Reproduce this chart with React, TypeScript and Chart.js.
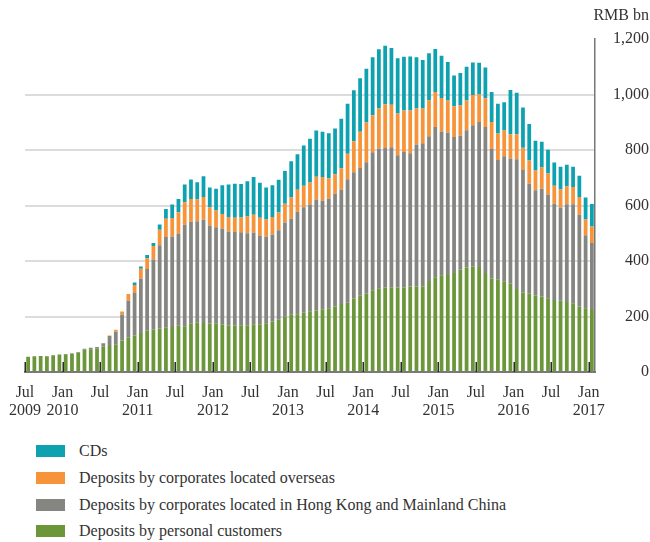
import React, { useEffect, useRef } from "react";
import { Chart, registerables } from "chart.js";

Chart.register(...registerables);

const monthNames = ["Jan", "Feb", "Mar", "Apr", "May", "Jun", "Jul", "Aug", "Sep", "Oct", "Nov", "Dec"];
const startMonth = 6; // Jul
const startYear = 2009;
const monthCount = 91; // Jul 2009 .. Jan 2017

const categories: string[] = [];
for (let i = 0; i < monthCount; i++) {
  const m = (startMonth + i) % 12;
  const y = startYear + Math.floor((startMonth + i) / 12);
  categories.push(`${monthNames[m]} ${y}`);
}

const seriesNames = [
  "CDs",
  "Deposits by corporates located overseas",
  "Deposits by corporates located in Hong Kong and Mainland China",
  "Deposits by personal customers",
];
const seriesColors = ["#0ea2b0", "#f7943a", "#858581", "#6c963a"];

const personal = [
  55, 57, 58, 57, 60, 63, 64, 66, 70,
  80, 82, 84, 92, 94, 100,
  114, 124, 132, 141, 149, 153, 157, 160, 162, 167, 165, 176, 178, 177, 175, 176,
  170, 169, 168, 169, 169, 172, 172, 176, 182, 188, 199, 208, 208, 214, 219,
  222, 226, 230, 236, 245, 250, 265, 275, 282, 295, 302, 305, 304, 305, 305,
  308, 308, 308, 328, 342, 349, 350, 357, 370, 377, 380, 379, 357, 337, 333, 327,
  318, 299, 287, 282, 276, 272, 266, 260, 257, 252, 248, 236, 230, 224,
];
const hkCorporates = [
  0, 0, 0, 0, 0, 0, 1, 2, 2,
  4, 5, 6, 12, 36, 45,
  92, 133, 153, 195, 222, 253, 300, 327, 327, 332, 366, 366, 366, 372, 353, 346,
  347, 338, 337, 335, 331, 331, 320, 312, 314, 323, 340, 345, 370, 380, 385,
  400, 392, 396, 407, 413, 445, 455, 461, 474, 497, 503, 503, 506, 477, 488,
  481, 512, 517, 522, 541, 518, 514, 490, 482, 495, 510, 522, 526, 467, 431, 451,
  452, 468, 441, 397, 379, 389, 374, 347, 336, 353, 357, 331, 263, 241,
];
const overseasCorporates = [
  0, 0, 0, 0, 0, 0, 0, 0, 0,
  0, 0, 0, 0, 2, 7,
  12, 24, 29, 36, 39, 48, 56, 66, 66, 77, 81, 82, 78, 82, 66, 60,
  53, 52, 51, 53, 61, 64, 64, 62, 63, 64, 68, 76, 79, 78, 79,
  82, 85, 73, 70, 77, 92, 112, 130, 144, 134, 145, 157, 154, 150, 150,
  154, 130, 125, 129, 127, 121, 115, 111, 109, 107, 109, 100, 104, 97, 96, 93,
  87, 90, 81, 84, 72, 76, 76, 65, 65, 64, 62, 64, 57, 60,
];
const cds = [
  0, 0, 0, 0, 0, 0, 0, 0, 0,
  0, 0, 0, 0, 0, 0,
  0, 0, 9, 8, 12, 11, 19, 35, 49, 48, 64, 70, 62, 75, 71, 79,
  103, 117, 123, 121, 127, 136, 126, 115, 114, 118, 118, 131, 128, 145, 158,
  167, 163, 162, 165, 178, 180, 184, 193, 193, 209, 214, 211, 204, 199, 194,
  195, 185, 175, 170, 155, 152, 139, 111, 117, 122, 117, 114, 111, 109, 107, 102,
  160, 150, 145, 131, 107, 93, 85, 83, 82, 78, 73, 77, 79, 81,
];

const yTicks = [0, 200, 400, 600, 800, 1000, 1200];
const unitLabel = "RMB bn";

const FONT = "'Liberation Serif', 'Times New Roman', serif";
const TEXT = "#333333";

function tickLabel(i: number): string | string[] {
  const m = (startMonth + i) % 12;
  const y = startYear + Math.floor((startMonth + i) / 12);
  if (m === 6) return i === 0 ? ["Jul", String(y)] : "Jul";
  if (m === 0) return ["Jan", String(y)];
  return "";
}

const innerTicks = {
  id: "innerTicks",
  afterDatasetsDraw(chart: any) {
    const xs = chart.scales.x;
    const area = chart.chartArea;
    const ctx = chart.ctx;
    const half = (xs.getPixelForValue(1) - xs.getPixelForValue(0)) / 2;
    ctx.save();
    ctx.strokeStyle = "#2a2a2a";
    ctx.lineWidth = 1.5;
    for (let i = 0; i < categories.length; i++) {
      const m = (startMonth + i) % 12;
      if (m !== 0 && m !== 6) continue;
      const x = Math.round(xs.getPixelForValue(i) - half) + 0.25;
      ctx.beginPath();
      ctx.moveTo(x, area.bottom);
      ctx.lineTo(x, area.bottom - 10);
      ctx.stroke();
    }
    ctx.restore();
  },
};

export default function App() {
  const ref = useRef<HTMLCanvasElement | null>(null);

  useEffect(() => {
    if (!ref.current) return;
    const stackData = [personal, hkCorporates, overseasCorporates, cds];
    const stackIdx = [3, 2, 1, 0];
    const chart = new Chart(ref.current, {
      type: "bar",
      data: {
        labels: categories,
        datasets: stackData.map((d, k) => ({
          label: seriesNames[stackIdx[k]],
          data: d,
          backgroundColor: seriesColors[stackIdx[k]],
          borderWidth: 0,
          barPercentage: 0.6,
          categoryPercentage: 1,
        })),
      },
      options: {
        responsive: false,
        animation: false,
        layout: { padding: { left: 21, right: 1, top: 0, bottom: 0 } },
        plugins: {
          legend: { display: false },
          tooltip: { enabled: false },
          title: {
            display: true,
            text: unitLabel,
            align: "end",
            color: TEXT,
            font: { family: FONT, size: 16, weight: "normal", lineHeight: 1.2 },
            padding: { top: 6, bottom: 14 },
          },
        },
        scales: {
          x: {
            stacked: true,
            offset: true,
            grid: { display: false, drawTicks: false },
            border: { display: true, color: "#7a7a7a", width: 2 },
            afterFit: (s: any) => {
              s.height = 50;
            },
            ticks: {
              autoSkip: false,
              maxRotation: 0,
              minRotation: 0,
              padding: 12,
              labelOffset: -3.15,
              color: TEXT,
              font: { family: FONT, size: 16, lineHeight: 1.1 },
              callback: (_v: any, i: number) => tickLabel(i),
            },
          },
          y: {
            stacked: true,
            position: "right",
            min: 0,
            max: 1200,
            afterBuildTicks: (s: any) => {
              s.ticks = yTicks.map((v) => ({ value: v }));
            },
            afterFit: (s: any) => {
              s.width = 54;
            },
            grid: {
              drawTicks: false,
              lineWidth: 2,
              color: (c: any) =>
                c.tick && (c.tick.value === 0 || c.tick.value === 1200) ? "rgba(0,0,0,0)" : "#dcdcdc",
            },
            border: { display: true, color: "#777777", width: 1.5 },
            ticks: {
              crossAlign: "far",
              padding: 4,
              color: TEXT,
              font: { family: FONT, size: 16 },
              callback: (v: any) => Number(v).toLocaleString("en-US"),
            },
          },
        },
      },
      plugins: [innerTicks],
    } as any);
    return () => chart.destroy();
  }, []);

  const legendTops = [451, 478, 504.5, 531];

  return (
    <div style={{ position: "absolute", left: 0, top: 0, width: 650, height: 542, background: "#fff" }}>
      <canvas ref={ref} width={650} height={422} style={{ position: "absolute", left: 0, top: 0 }} />
      {seriesNames.map((name, k) => (
        <div key={name}>
          <div
            style={{
              position: "absolute",
              left: 36,
              top: legendTops[k] - 6,
              width: 29,
              height: 12,
              background: seriesColors[k],
            }}
          />
          <div
            style={{
              position: "absolute",
              left: 79,
              top: legendTops[k] - 10,
              height: 20,
              lineHeight: "20px",
              fontFamily: FONT,
              fontSize: 16,
              color: TEXT,
              whiteSpace: "nowrap",
            }}
          >
            {name}
          </div>
        </div>
      ))}
    </div>
  );
}
